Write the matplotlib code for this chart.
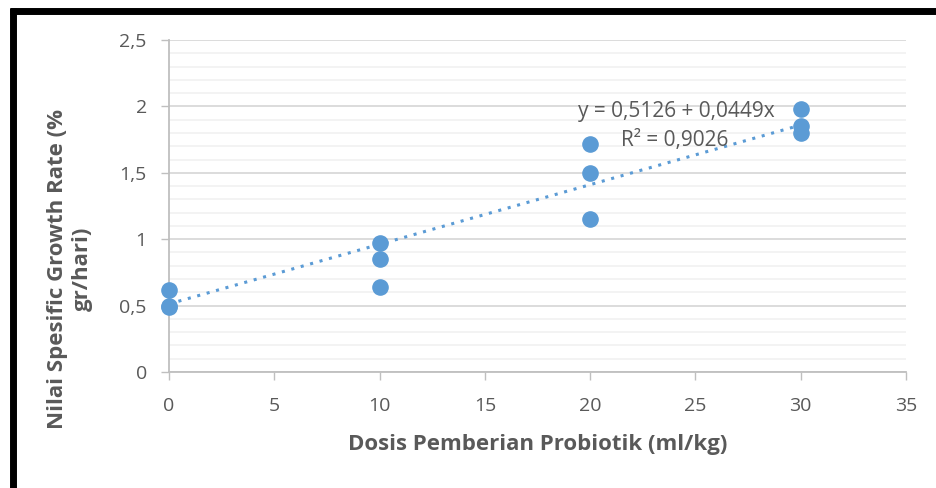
import matplotlib
matplotlib.use('Agg')
import matplotlib.pyplot as plt
from matplotlib.ticker import MultipleLocator, FuncFormatter
from matplotlib.lines import Line2D

plt.rcParams['font.family'] = ['Open Sans', 'DejaVu Sans']

# dosis (ml/kg) and specific growth rate (%/day)
dose = [0, 0, 0, 10, 10, 10, 20, 20, 20, 30, 30, 30]
sgr = [0.62, 0.49, 0.50, 0.97, 0.85, 0.64, 1.72, 1.50, 1.15, 1.98, 1.85, 1.80]

# linear trend shown on the chart
intercept = 0.5126
slope = 0.0449
trend_x = [0, 30]
eq_text = 'y = 0,5126 + 0,0449x'
r2_text = 'R² = 0,9026'

gray = '#595959'
blue = '#5B9BD5'

fig = plt.figure(figsize=(9.36, 4.88), dpi=100)
ax = fig.add_axes([169/936, 1-372/488, (906-169)/936, (372-40)/488])

ax.set_xlim(0, 35)
ax.set_ylim(0, 2.5)
ax.xaxis.set_major_locator(MultipleLocator(5))
ax.yaxis.set_major_locator(MultipleLocator(0.5))
ax.yaxis.set_minor_locator(MultipleLocator(0.1))
ax.yaxis.set_major_formatter(FuncFormatter(lambda v, p: ('%g' % v).replace('.', ',')))

ax.grid(which='major', axis='y', color='#D9D9D9', lw=1.3, zorder=0)
ax.grid(which='minor', axis='y', color='#F2F2F2', lw=1.3, zorder=0)
ax.set_axisbelow(True)

for s in ['top', 'right']:
    ax.spines[s].set_visible(False)
for s in ['left', 'bottom']:
    ax.spines[s].set_color('#BFBFBF')
    ax.spines[s].set_linewidth(1.3)

ax.tick_params(which='major', direction='out', length=6, color='#BFBFBF',
               width=1, labelsize=14, labelcolor=gray)
ax.tick_params(axis='x', pad=12)
ax.tick_params(axis='y', pad=10)
ax.tick_params(which='minor', length=0)

ty = [intercept + slope * t for t in trend_x]
ax.plot(trend_x, ty, ls=(0, (1, 2.2)), lw=2.2, color=blue, zorder=2)
ax.scatter(dose, sgr, s=120, color=blue, zorder=3, clip_on=False)

ax.text(24.1, 1.96, eq_text, fontsize=15, color=gray, ha='center', va='center')
ax.text(24.0, 1.74, r2_text, fontsize=15, color=gray, ha='center', va='center')

ax.set_xlabel('Dosis Pemberian Probiotik (ml/kg)', fontsize=16, fontweight='bold',
              color=gray, labelpad=14)
ax.set_ylabel('Nilai Spesific Growth Rate (%\ngr/hari)', fontsize=16,
              fontweight='bold', color=gray, linespacing=1.25)
ax.yaxis.set_label_coords(-(169 - 93) / 737, 0.31)

# black frame on left and top edges of the screenshot
fig.add_artist(Line2D([12.5/936, 12.5/936], [0, 1-8/488], color='black', lw=5,
                      transform=fig.transFigure, solid_capstyle='butt'))
fig.add_artist(Line2D([10/936, 1], [1-11/488, 1-11/488], color='black', lw=5,
                      transform=fig.transFigure, solid_capstyle='butt'))

fig.savefig('out.png', dpi=100)
